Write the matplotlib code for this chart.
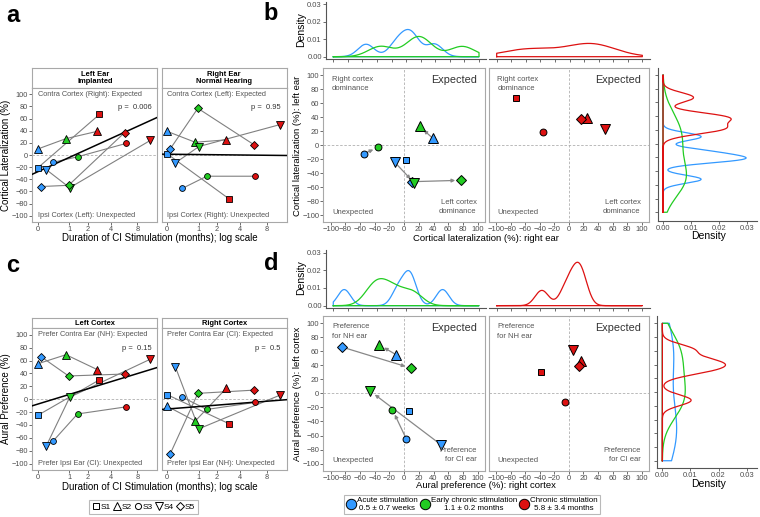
import numpy as np
import matplotlib
matplotlib.use('Agg')
import matplotlib.pyplot as plt
from matplotlib.lines import Line2D

plt.rcParams['font.family'] = ['Liberation Sans', 'DejaVu Sans']

# ---------------- data ----------------
subjects = ['S1', 'S2', 'S3', 'S4', 'S5']
subject_markers = ['s', '^', 'o', 'v', 'D']
stage_labels = ['Acute stimulation\n0.5 ± 0.7 weeks',
                'Early chronic stimulation\n1.1 ± 0.2 months',
                'Chronic stimulation\n5.8 ± 3.4 months']
stage_colors = ['#3399FF', '#22CC22', '#DD1111']

months_acute = [0.0, 0.0, 0.4, 0.2, 0.07]
months_early = [np.nan, 0.86, 1.4, 1.02, 0.97]
months_chronic = [2.9, 2.7, 6.0, 11.0, 5.8]

lat_left_acute = [-21, 10, -12, -24, -52]
lat_left_early = [np.nan, 27, -3, -54, -50]
lat_left_chronic = [67, 39, 19, 24, 37]

lat_right_acute = [2, 39, -55, -13, 10]
lat_right_early = [np.nan, 21, -35, 14, 77]
lat_right_chronic = [-72, 25, -35, 50, 17]

pref_left_acute = [-25, 55, -65, -73, 66]
pref_left_early = [np.nan, 69, -23, 3, 36]
pref_left_chronic = [30, 46, -12, 62, 39]

pref_right_acute = [7, -11, 3, 50, -85]
pref_right_early = [np.nan, -34, -16, -46, 9]
pref_right_chronic = [-38, 17, -5, 6, 14]

# trend lines: (value at 0 months, change per doubling of months+1)
fit_lat_left = (-27.5, 23.5)
fit_lat_right = (1.3, -0.55)
fit_pref_left = (-7.6, 14.9)
fit_pref_right = (-15.3, 3.8)
p_lat = ['0.006', '0.95']
p_pref = ['0.15', '0.5']

month_ticks = [0, 1, 2, 4, 8]

# ---------------- helpers ----------------
W, H = 760, 517
fig = plt.figure(figsize=(W / 100, H / 100), dpi=100)
BORDER = '#A8A8A8'
TXT = '#4D4D4D'


def add_ax(x0, y0, x1, y1):
    return fig.add_axes([x0 / W, 1 - y1 / H, (x1 - x0) / W, (y1 - y0) / H])


def fwd(x):
    return np.log2(np.maximum(1 + np.asarray(x, dtype=float), 1e-9))


def inv(y):
    return 2 ** np.asarray(y, dtype=float) - 1


XLIM = (2 ** -0.18 - 1, 2 ** 3.81 - 1)
MS_FACT = {'s': 1.0, 'o': 1.05, '^': 1.45, 'v': 1.45, 'D': 1.0}


def box_style(ax, labelsize=5.3):
    for s in ax.spines.values():
        s.set_color(BORDER)
        s.set_linewidth(0.8)
    ax.tick_params(direction='out', length=2, width=0.6, color='#555555',
                   labelsize=labelsize, labelcolor=TXT, pad=1)


def nrd0(x):
    x = np.asarray(x, dtype=float)
    x = x[~np.isnan(x)]
    sd = np.std(x, ddof=1)
    q75, q25 = np.percentile(x, [75, 25])
    lo = min(sd, (q75 - q25) / 1.34)
    return 0.9 * lo * len(x) ** -0.2


def kde(x, grid):
    x = np.asarray(x, dtype=float)
    x = x[~np.isnan(x)]
    h = nrd0(x)
    z = (grid[:, None] - x[None, :]) / h
    return np.exp(-0.5 * z ** 2).sum(1) / (len(x) * h * np.sqrt(2 * np.pi))


times = [months_acute, months_early, months_chronic]


def timecourse(x0, x1, ys0, ys1, yb, strip, vals, fit, ptxt, top_txt, bot_txt, show_y):
    sax = add_ax(x0, ys0, x1, ys1)
    sax.set_xticks([]); sax.set_yticks([])
    for s in sax.spines.values():
        s.set_color(BORDER); s.set_linewidth(0.8)
    sax.text(0.5, 0.5, strip, ha='center', va='center', fontsize=5.4,
             fontweight='bold', transform=sax.transAxes, linespacing=1.0)
    ax = add_ax(x0, ys1, x1, yb)
    ax.set_xscale('function', functions=(fwd, inv))
    ax.set_xlim(XLIM)
    ax.set_ylim(-110, 110)
    box_style(ax)
    ax.axhline(0, color='#B0B0B0', lw=0.6, dashes=(3, 2), zorder=1)
    for i in range(len(subjects)):
        xs = np.array([t[i] for t in times], dtype=float)
        ys = np.array([v[i] for v in vals], dtype=float)
        m = ~np.isnan(ys)
        ax.plot(xs[m], ys[m], color='#808080', lw=0.8, zorder=2)
    mm = np.linspace(XLIM[0], XLIM[1], 200)
    ax.plot(mm, fit[0] + fit[1] * fwd(mm), color='black', lw=1.1, zorder=3)
    for st in range(3):
        for i, mk in enumerate(subject_markers):
            y = vals[st][i]
            if np.isnan(y):
                continue
            ax.plot([times[st][i]], [y], ls='none', marker=mk,
                    ms=4.0 * MS_FACT[mk], mfc=stage_colors[st], mec='black',
                    mew=0.6, zorder=4)
    ax.set_xticks(month_ticks)
    ax.set_xticklabels([str(t) for t in month_ticks])
    ax.minorticks_off()
    ax.set_yticks(np.arange(-100, 101, 20))
    if not show_y:
        ax.tick_params(axis='y', left=False, labelleft=False)
    ax.text(0, 100, top_txt, ha='left', va='center', fontsize=5.3, color='#555555')
    ax.text(0, -100, bot_txt, ha='left', va='center', fontsize=5.3, color='#555555')
    ax.text(11.3, 78, 'p =  ' + ptxt, ha='right', va='center', fontsize=5.4, color='#333333')
    return ax


# ---------------- panel a ----------------
lat_left = [lat_left_acute, lat_left_early, lat_left_chronic]
lat_right = [lat_right_acute, lat_right_early, lat_right_chronic]
pref_left = [pref_left_acute, pref_left_early, pref_left_chronic]
pref_right = [pref_right_acute, pref_right_early, pref_right_chronic]

timecourse(32.3, 157.3, 68.3, 88.3, 221.7, 'Left Ear\nImplanted', lat_left, fit_lat_left,
           p_lat[0], 'Contra Cortex (Right): Expected', 'Ipsi Cortex (Left): Unexpected', True)
timecourse(161.5, 286.7, 68.3, 88.3, 221.7, 'Right Ear\nNormal Hearing', lat_right, fit_lat_right,
           p_lat[1], 'Contra Cortex (Left): Expected', 'Ipsi Cortex (Right): Unexpected', False)
fig.text(6.5 / W, 1 - 155 / H, 'Cortical Lateralization (%)', rotation=90,
         ha='center', va='center', fontsize=7)
fig.text(159.5 / W, 1 - 238 / H, 'Duration of CI Stimulation (months); log scale',
         ha='center', va='center', fontsize=7)

# ---------------- panel c ----------------
timecourse(32.3, 157.3, 318.3, 328.3, 470, 'Left Cortex', pref_left, fit_pref_left,
           p_pref[0], 'Prefer Contra Ear (NH): Expected', 'Prefer Ipsi Ear (CI): Unexpected', True)
timecourse(161.5, 286.7, 318.3, 328.3, 470, 'Right Cortex', pref_right, fit_pref_right,
           p_pref[1], 'Prefer Contra Ear (CI): Expected', 'Prefer Ipsi Ear (NH): Unexpected', False)
fig.text(6.5 / W, 1 - 399 / H, 'Aural Preference (%)', rotation=90,
         ha='center', va='center', fontsize=7)
fig.text(159.5 / W, 1 - 487 / H, 'Duration of CI Stimulation (months); log scale',
         ha='center', va='center', fontsize=7)

subj_handles = [Line2D([], [], ls='none', marker=mk, ms=4.2 * MS_FACT[mk], mfc='white',
                       mec='black', mew=0.7) for mk in subject_markers]
leg1 = fig.legend(subj_handles, subjects, loc='center', bbox_to_anchor=(143.5 / W, 1 - 507 / H),
                  ncol=5, fontsize=6, frameon=True, fancybox=False, handletextpad=0.05,
                  columnspacing=0.25, handlelength=1.0, borderpad=0.35, borderaxespad=0)
leg1.get_frame().set_edgecolor(BORDER)
leg1.get_frame().set_linewidth(0.8)


# ---------------- scatter panels b & d ----------------
def scatter_panel(x0, x1, y0, y1, xv, yv, stages, tl, br, show_y):
    ax = add_ax(x0, y0, x1, y1)
    ax.set_xlim(-110, 110); ax.set_ylim(-110, 110)
    box_style(ax, 5.5)
    ax.axhline(0, color='#B0B0B0', lw=0.6, dashes=(3, 2), zorder=1)
    ax.axvline(0, color='#B0B0B0', lw=0.6, dashes=(3, 2), zorder=1)
    if stages == [0, 1]:
        for i in range(len(subjects)):
            if np.isnan(xv[1][i]):
                continue
            ax.annotate('', xy=(xv[1][i], yv[1][i]), xytext=(xv[0][i], yv[0][i]),
                        arrowprops=dict(arrowstyle='-|>', color='#888888', lw=0.9,
                                        shrinkA=0, shrinkB=4, mutation_scale=5),
                        zorder=2)
    for st in stages:
        for i, mk in enumerate(subject_markers):
            if np.isnan(xv[st][i]):
                continue
            ax.plot([xv[st][i]], [yv[st][i]], ls='none', marker=mk,
                    ms=4.7 * MS_FACT[mk], mfc=stage_colors[st], mec='black',
                    mew=0.7, zorder=3)
    ax.set_xticks(np.arange(-100, 101, 20))
    ax.set_yticks(np.arange(-100, 101, 20))
    if not show_y:
        ax.tick_params(axis='y', left=False, labelleft=False)
    ax.text(-98, 88, tl, ha='left', va='center', fontsize=5.5, color='#555555', linespacing=1.45)
    ax.text(98.5, 93, 'Expected', ha='right', va='center', fontsize=7.8, color='#333333')
    ax.text(-98, -96, 'Unexpected', ha='left', va='center', fontsize=5.5, color='#555555')
    ax.text(98.5, -88, br, ha='right', va='center', fontsize=5.5, color='#555555', linespacing=1.45)
    return ax


def dens_top(x0, x1, y0, y1, datasets, cols, show_y):
    ax = add_ax(x0, y0, x1, y1)
    ax.set_xlim(-110, 110); ax.set_ylim(-0.0015, 0.0315)
    g = np.linspace(-100, 100, 512)
    for d, c in zip(datasets, cols):
        dd = kde(d, g)
        ax.plot(np.r_[-100, g, 100, -100], np.r_[0, dd, 0, 0], color=c, lw=0.9)
    ax.spines['top'].set_visible(False); ax.spines['right'].set_visible(False)
    ax.spines['bottom'].set_color('#555555'); ax.spines['left'].set_color('#555555')
    ax.spines['bottom'].set_linewidth(0.8); ax.spines['left'].set_linewidth(0.8)
    ax.tick_params(direction='out', length=2, width=0.6, color='#555555',
                   labelsize=5.5, labelcolor=TXT, pad=1)
    ax.set_xticks(np.arange(-100, 101, 20)); ax.set_xticklabels([])
    if show_y:
        ax.set_yticks([0, 0.01, 0.02, 0.03])
        ax.set_yticklabels(['0.00', '0.01', '0.02', '0.03'])
    else:
        ax.set_yticks([])
        ax.spines['left'].set_visible(False)
    ax.patch.set_alpha(0)
    return ax


def dens_right(x0, x1, y0, y1, datasets, cols, ylim):
    ax = add_ax(x0, y0, x1, y1)
    ax.set_ylim(*ylim); ax.set_xlim(-0.0018, 0.0337)
    g = np.linspace(-100, 100, 512)
    for d, c in zip(datasets, cols):
        dd = kde(d, g)
        ax.plot(np.r_[0, dd, 0, 0], np.r_[-100, g, 100, -100], color=c, lw=0.9)
    ax.spines['top'].set_visible(False); ax.spines['right'].set_visible(False)
    ax.spines['bottom'].set_color('#555555'); ax.spines['left'].set_color('#555555')
    ax.spines['bottom'].set_linewidth(0.8); ax.spines['left'].set_linewidth(0.8)
    ax.tick_params(direction='out', length=2, width=0.6, color='#555555',
                   labelsize=5.5, labelcolor=TXT, pad=1)
    ax.set_yticks(np.arange(-100, 101, 20)); ax.set_yticklabels([])
    ax.set_xticks([0, 0.01, 0.02, 0.03])
    ax.set_xticklabels(['0.00', '0.01', '0.02', '0.03'])
    return ax


# panel b
scatter_panel(323.3, 485, 68.3, 222.3, lat_right, lat_left, [0, 1],
              'Right cortex\ndominance', 'Left cortex\ndominance', True)
scatter_panel(488.7, 649, 68.3, 222.3, lat_right, lat_left, [2],
              'Right cortex\ndominance', 'Left cortex\ndominance', False)
dens_top(326, 486.3, 1.7, 59.3, [lat_right[0], lat_right[1]], stage_colors[:2], True)
dens_top(489.4, 649.6, 1.7, 59.3, [lat_right[2]], stage_colors[2:], False)
dens_right(658, 757, 68, 220.5, lat_left, stage_colors, (-112, 110))
fig.text(297 / W, 1 - 146 / H, 'Cortical lateralization (%): left ear', rotation=90,
         ha='center', va='center', fontsize=6.8)
fig.text(486 / W, 1 - 238 / H, 'Cortical lateralization (%): right ear',
         ha='center', va='center', fontsize=6.8)
fig.text(301 / W, 1 - 30 / H, 'Density', rotation=90, ha='center', va='center', fontsize=7.5)
fig.text(709 / W, 1 - 236 / H, 'Density', ha='center', va='center', fontsize=7.5)

# panel d
scatter_panel(323.3, 485, 316, 470.7, pref_right, pref_left, [0, 1],
              'Preference\nfor NH ear', 'Preference\nfor CI ear', True)
scatter_panel(488.7, 649, 316, 470.7, pref_right, pref_left, [2],
              'Preference\nfor NH ear', 'Preference\nfor CI ear', False)
dens_top(326, 486.3, 250, 308.3, [pref_right[0], pref_right[1]], stage_colors[:2], True)
dens_top(489.4, 649.6, 250, 308.3, [pref_right[2]], stage_colors[2:], False)
dens_right(657.3, 757, 316, 468.3, pref_left, stage_colors, (-111, 110.6))
fig.text(297 / W, 1 - 394 / H, 'Aural preference (%): left cortex', rotation=90,
         ha='center', va='center', fontsize=6.8)
fig.text(486 / W, 1 - 485.5 / H, 'Aural preference (%): right cortex',
         ha='center', va='center', fontsize=6.8)
fig.text(301 / W, 1 - 278 / H, 'Density', rotation=90, ha='center', va='center', fontsize=7.5)
fig.text(709 / W, 1 - 484 / H, 'Density', ha='center', va='center', fontsize=7.5)

stage_handles = [Line2D([], [], ls='none', marker='o', ms=7.5, mfc=c, mec='black', mew=0.7)
                 for c in stage_colors]
leg2 = fig.legend(stage_handles, stage_labels, loc='center', bbox_to_anchor=(472 / W, 1 - 504.5 / H),
                  ncol=3, fontsize=5.8, frameon=True, fancybox=False, handletextpad=0.1,
                  columnspacing=0.3, handlelength=1.2, borderpad=0.3, borderaxespad=0)
leg2.get_frame().set_edgecolor(BORDER)
leg2.get_frame().set_linewidth(0.8)
for t in leg2.get_texts():
    t.set_multialignment('center')
    t.set_linespacing(1.0)

# panel letters
for lbl, x, y in [('a', 13, 16), ('b', 271, 14), ('c', 13, 266), ('d', 271, 264)]:
    fig.text(x / W, 1 - y / H, lbl, ha='center', va='center', fontsize=17, fontweight='bold')

fig.savefig('out.png', dpi=100)
